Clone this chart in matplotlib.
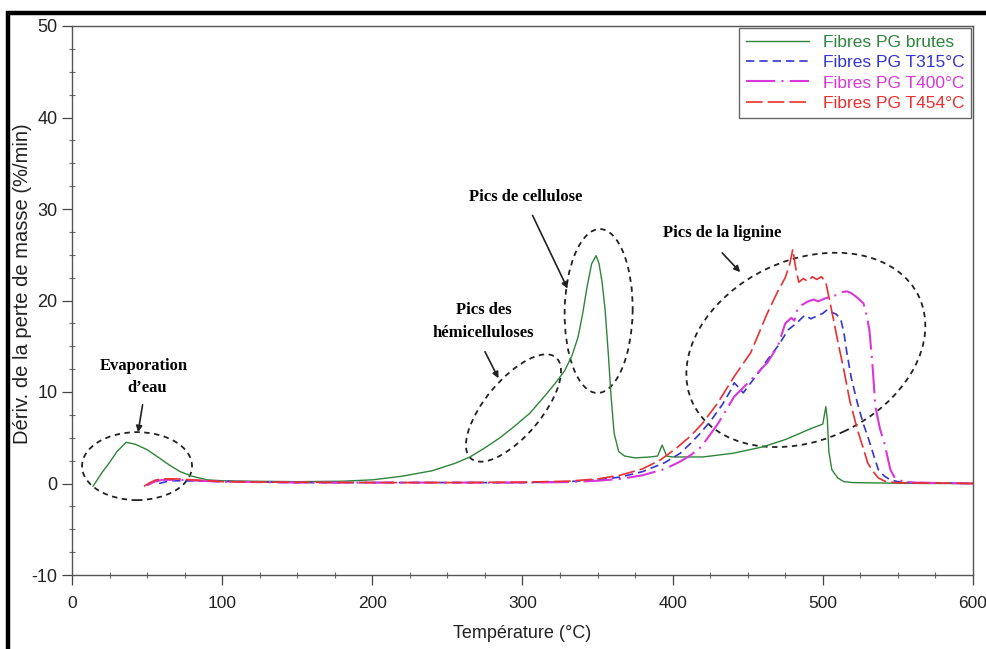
import numpy as np
import matplotlib.pyplot as plt
from matplotlib.patches import Ellipse, Rectangle
from matplotlib.transforms import IdentityTransform, ScaledTranslation
from matplotlib.ticker import MultipleLocator

plt.rcParams['axes.unicode_minus'] = False

# DTG des fibres PG brutes
T_brut = [14, 20, 25, 30, 36, 42, 50, 58, 65, 72, 80, 90, 100, 120, 150, 180, 200, 220, 240, 255,
          265, 275, 285, 295, 305, 315, 322, 328, 333, 337, 340, 343, 346, 349, 351, 353, 355, 357,
          359, 361, 364, 368, 375, 385, 390, 393, 396, 400, 420, 440, 460, 475, 485, 492, 497, 500,
          502, 503, 504, 506, 510, 514, 520, 540, 570, 600]
dtg_brut = [-0.3, 1.2, 2.3, 3.5, 4.5, 4.3, 3.7, 2.8, 2.0, 1.3, 0.8, 0.4, 0.3, 0.25, 0.2, 0.25, 0.4,
            0.8, 1.4, 2.2, 2.9, 3.9, 5.0, 6.3, 7.7, 9.6, 11.0, 12.3, 14.0, 16.0, 18.5, 21.5, 24.0,
            24.9, 24.0, 22.0, 19.0, 14.5, 9.5, 5.5, 3.5, 3.0, 2.8, 2.9, 3.0, 4.2, 3.0, 2.9, 2.9,
            3.3, 4.0, 4.8, 5.5, 6.0, 6.3, 6.5, 8.4, 7.0, 3.5, 1.5, 0.6, 0.2, 0.1, 0.05, 0.0, 0.0]

# fibres traitées à 315 °C
T_315 = [58, 65, 75, 90, 110, 150, 200, 260, 300, 330, 350, 365, 380, 395, 405, 412, 419, 426, 433,
         438, 441, 444, 447, 452, 458, 463, 470, 477, 483, 488, 492, 496, 500, 503, 506, 509, 512,
         514, 516, 519, 523, 527, 530, 534, 537, 541, 545, 550, 560, 580, 600]
dtg_315 = [0.0, 0.3, 0.3, 0.25, 0.2, 0.1, 0.1, 0.1, 0.1, 0.2, 0.4, 0.7, 1.3, 2.3, 3.3, 4.4, 5.6,
           7.0, 8.6, 10.0, 11.0, 10.5, 9.9, 11.0, 12.3, 13.5, 15.0, 16.8, 17.6, 18.4, 18.0, 18.3,
           18.6, 19.0, 18.7, 18.5, 17.9, 16.5, 14.3, 11.5, 8.8, 6.5, 5.1, 3.0, 1.5, 0.8, 0.4, 0.2,
           0.1, 0.05, 0.0]

# fibres traitées à 400 °C
T_400 = [50, 55, 60, 70, 85, 100, 150, 200, 260, 300, 330, 350, 365, 380, 395, 405, 412, 419, 430,
         441, 452, 463, 470, 475, 479, 481, 483, 486, 490, 494, 497, 501, 505, 509, 512, 516, 519,
         523, 527, 529, 531, 533, 535, 538, 541, 545, 548, 552, 560, 580, 600]
dtg_400 = [-0.2, 0.2, 0.4, 0.4, 0.3, 0.2, 0.1, 0.1, 0.1, 0.1, 0.15, 0.3, 0.5, 0.9, 1.6, 2.4, 3.1,
           4.0, 6.5, 9.5, 11.3, 13.2, 15.0, 17.5, 18.1, 17.8, 19.0, 19.5, 19.9, 20.1, 19.9, 20.2,
           20.4, 20.6, 20.9, 21.0, 20.8, 20.3, 19.7, 18.5, 16.8, 13.1, 8.4, 6.0, 4.4, 1.5, 0.6,
           0.3, 0.1, 0.05, 0.0]

# fibres traitées à 454 °C
T_454 = [48, 52, 56, 62, 70, 80, 90, 100, 130, 200, 260, 300, 330, 350, 365, 380, 392, 402, 412,
         420, 430, 441, 452, 463, 470, 475, 478, 480, 482, 484, 487, 490, 493, 496, 499, 502, 504,
         507, 510, 514, 518, 523, 527, 530, 534, 537, 542, 548, 560, 580, 600]
dtg_454 = [-0.3, 0.1, 0.4, 0.5, 0.5, 0.4, 0.3, 0.2, 0.15, 0.1, 0.1, 0.15, 0.25, 0.5, 0.9, 1.6,
           2.6, 3.8, 5.2, 6.6, 8.8, 11.7, 14.3, 18.6, 21.0, 22.5, 24.0, 25.6, 23.5, 22.0, 22.4,
           22.1, 22.6, 22.3, 22.6, 22.0, 20.4, 18.0, 15.5, 12.4, 9.0, 5.9, 3.8, 2.2, 1.2, 0.6,
           0.2, 0.1, 0.05, 0.05, 0.0]

fig = plt.figure(figsize=(9.87, 6.49), dpi=100)
ax = fig.add_axes([72 / 987, 1 - 575 / 649, 901 / 987, 549 / 649])

ax.plot(T_brut, dtg_brut, color='#2e853a', lw=1.0, label='Fibres PG brutes')
ax.plot(T_315, dtg_315, color='#3535d0', lw=1.2, ls=(0, (5, 3)), label='Fibres PG T315°C')
ax.plot(T_400, dtg_400, color='#d838d8', lw=1.5, ls=(0, (14, 3, 1, 3)), label='Fibres PG T400°C')
ax.plot(T_454, dtg_454, color='#ea3030', lw=1.2, ls=(0, (10, 3)), label='Fibres PG T454°C')

ax.set_xlim(0, 600)
ax.set_ylim(-10, 50)
ax.xaxis.set_major_locator(MultipleLocator(100))
ax.xaxis.set_minor_locator(MultipleLocator(25))
ax.yaxis.set_major_locator(MultipleLocator(10))
ax.yaxis.set_minor_locator(MultipleLocator(2.5))
ax.tick_params(which='major', direction='out', length=7, width=0.9, color='#444')
ax.tick_params(which='minor', direction='inout', length=4, width=0.8, color='#666')
ax.tick_params(axis='x', which='major', pad=8)
for sp in ax.spines.values():
    sp.set_color('#555')
    sp.set_linewidth(1.0)

for lab in ax.get_yticklabels():
    lab.set_fontfamily('Liberation Sans')
    lab.set_fontsize(13)
    lab.set_color('#222')
for lab in ax.get_xticklabels():
    lab.set_fontfamily('Liberation Sans')
    lab.set_fontsize(12.5)
    lab.set_color('#222')

ax.set_ylabel('Dériv. de la perte de masse (%/min)', fontsize=14.5, family='Liberation Sans',
              color='#222')
ax.yaxis.set_label_coords(-0.044, 0.53)
ax.set_xlabel('Température (°C)', fontsize=13, family='Liberation Sans', color='#222',
              labelpad=10)

leg = ax.legend(loc='upper right', bbox_to_anchor=(1.0, 1.0), borderaxespad=0.1,
                prop={'family': 'Liberation Sans', 'size': 12.5}, labelcolor='linecolor',
                handlelength=3.6, labelspacing=0.3, fancybox=False, framealpha=1,
                edgecolor='#666')
leg.get_frame().set_linewidth(1.0)


def ring(cx, cy, w, h, angle):
    # ellipse sized in pixels, anchored at a data point
    tr = IdentityTransform() + ScaledTranslation(cx, cy, ax.transData)
    ax.add_patch(Ellipse((0, 0), w, h, angle=angle, transform=tr, fill=False,
                         ec='#222', lw=1.3, ls=(0, (3, 2.5))))


ring(43.3, 1.9, 110, 68, 0)
ring(294, 8.25, 132, 56, 50)
ring(350.7, 18.85, 164, 68, 89)
ring(488.7, 14.6, 250, 180, 25)

note = dict(family='Liberation Serif', fontweight='bold', fontsize=12, ha='center', va='center')
ax.text(48, 12.8, 'Evaporation', **note)
ax.text(50, 10.4, 'd\u2019eau', **note)
ax.text(274, 19.0, 'Pics des', **note)
ax.text(274, 16.5, 'hémicelluloses', **note)
ax.text(302, 31.3, 'Pics de cellulose', **note)
ax.text(433, 27.4, 'Pics de la lignine', **note)

arrow = dict(arrowstyle='-|>', color='#222', lw=1.2, mutation_scale=9, shrinkA=0, shrinkB=0)
ax.annotate('', xy=(44, 5.6), xytext=(47, 8.6), arrowprops=arrow)
ax.annotate('', xy=(284, 11.5), xytext=(275, 14.4), arrowprops=arrow)
ax.annotate('', xy=(330, 21.3), xytext=(306.7, 29.3), arrowprops=arrow)
ax.annotate('', xy=(445, 23.1), xytext=(433, 25.2), arrowprops=arrow)

# cadre extérieur
fig.add_artist(Rectangle((8 / 987, -0.05), 1.1, 1.05 - 13 / 649, transform=fig.transFigure,
                         fill=False, ec='k', lw=3.2))

fig.savefig('out.png', dpi=100)
